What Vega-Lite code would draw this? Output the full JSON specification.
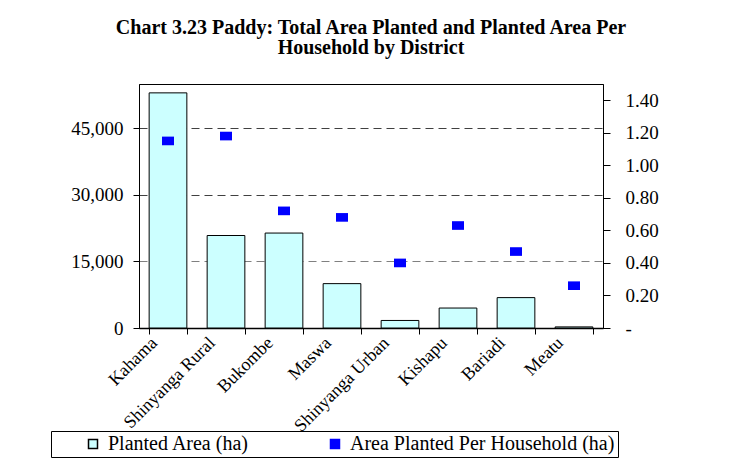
{
  "$schema": "https://vega.github.io/schema/vega-lite/v6.json",
  "width": 464,
  "height": 244,
  "padding": {"left": 50, "top": 18, "right": 10, "bottom": 10},
  "background": "white",
  "config": {
    "view": {"stroke": "black", "strokeWidth": 1},
    "font": "Liberation Serif"
  },
  "title": {
    "text": ["Chart 3.23 Paddy: Total Area Planted and Planted Area Per", "Household by District"],
    "font": "Liberation Serif",
    "fontSize": 20,
    "fontWeight": "bold",
    "lineHeight": 20,
    "offset": 26,
    "anchor": "middle",
    "color": "black"
  },
  "data": {
    "values": [
      {"district": "Kahama", "area": 53000, "perhh": 1.15},
      {"district": "Shinyanga Rural", "area": 20850, "perhh": 1.18},
      {"district": "Bukombe", "area": 21400, "perhh": 0.72},
      {"district": "Maswa", "area": 10000, "perhh": 0.68},
      {"district": "Shinyanga Urban", "area": 1700, "perhh": 0.40},
      {"district": "Kishapu", "area": 4500, "perhh": 0.63},
      {"district": "Bariadi", "area": 6850, "perhh": 0.47},
      {"district": "Meatu", "area": 250, "perhh": 0.26}
    ]
  },
  "encoding": {
    "x": {
      "field": "district",
      "type": "nominal",
      "sort": null,
      "scale": {"paddingInner": 0.35, "paddingOuter": 0.175},
      "axis": {
        "title": null,
        "labelAngle": -45,
        "labelAlign": "right",
        "labelBaseline": "middle",
        "labelOffset": -14,
        "labelPadding": 6,
        "labelFont": "Liberation Serif",
        "labelFontSize": 18,
        "labelColor": "black",
        "tickBand": "extent",
        "tickSize": 6,
        "tickColor": "black",
        "domainColor": "black",
        "domainWidth": 1.5,
        "labelOverlap": false
      }
    }
  },
  "layer": [
    {
      "mark": {"type": "bar", "strokeWidth": 1},
      "encoding": {
        "y": {
          "field": "area",
          "type": "quantitative",
          "scale": {"domain": [0, 55000], "nice": false},
          "axis": {
            "title": null,
            "values": [0, 15000, 30000, 45000],
            "format": ",.0f",
            "labelFont": "Liberation Serif",
            "labelFontSize": 19,
            "labelColor": "black",
            "labelPadding": 10,
            "tickSize": 6,
            "tickColor": "black",
            "domainColor": "black",
            "grid": true,
            "gridDash": [8, 5],
            "gridColor": {"condition": {"test": "datum.value == 15000", "value": "#808080"}, "value": "#404040"},
            "gridWidth": 1.2
          }
        },
        "fill": {
          "datum": "Planted Area (ha)",
          "type": "nominal",
          "scale": {
            "domain": ["Planted Area (ha)", "Area Planted Per Household (ha)"],
            "range": ["#CCFFFF", "#0000FF"]
          },
          "legend": {
            "title": null,
            "orient": "none",
            "legendX": -88,
            "legendY": 347,
            "direction": "horizontal",
            "strokeColor": "black",
            "fillColor": "white",
            "padding": 3,
            "symbolType": "square",
            "symbolSize": 81,
            "symbolOffset": 29,
            "labelFont": "Liberation Serif",
            "labelFontSize": 20,
            "labelColor": "black",
            "labelOffset": 5,
            "columnPadding": 46,
            "labelLimit": 400
          }
        },
        "stroke": {
          "datum": "Planted Area (ha)",
          "type": "nominal",
          "scale": {
            "domain": ["Planted Area (ha)", "Area Planted Per Household (ha)"],
            "range": ["#000000", "#0000FF"]
          },
          "legend": null
        }
      }
    },
    {
      "mark": {"type": "point", "filled": true, "shape": "M-1,-0.72H1V0.72H-1Z", "size": 144, "opacity": 1, "strokeWidth": 0},
      "encoding": {
        "y": {
          "field": "perhh",
          "type": "quantitative",
          "scale": {"domain": [0, 1.5], "nice": false},
          "axis": {
            "title": null,
            "orient": "right",
            "values": [0, 0.2, 0.4, 0.6, 0.8, 1.0, 1.2, 1.4],
            "labelExpr": "datum.value === 0 ? '-' : format(datum.value, '.2f')",
            "labelFont": "Liberation Serif",
            "labelFontSize": 19,
            "labelColor": "black",
            "labelPadding": 15,
            "tickSize": 7,
            "tickColor": "black",
            "domainColor": "black",
            "grid": false
          }
        },
        "fill": {"datum": "Area Planted Per Household (ha)", "type": "nominal"}
      }
    }
  ],
  "resolve": {"scale": {"y": "independent"}}
}
